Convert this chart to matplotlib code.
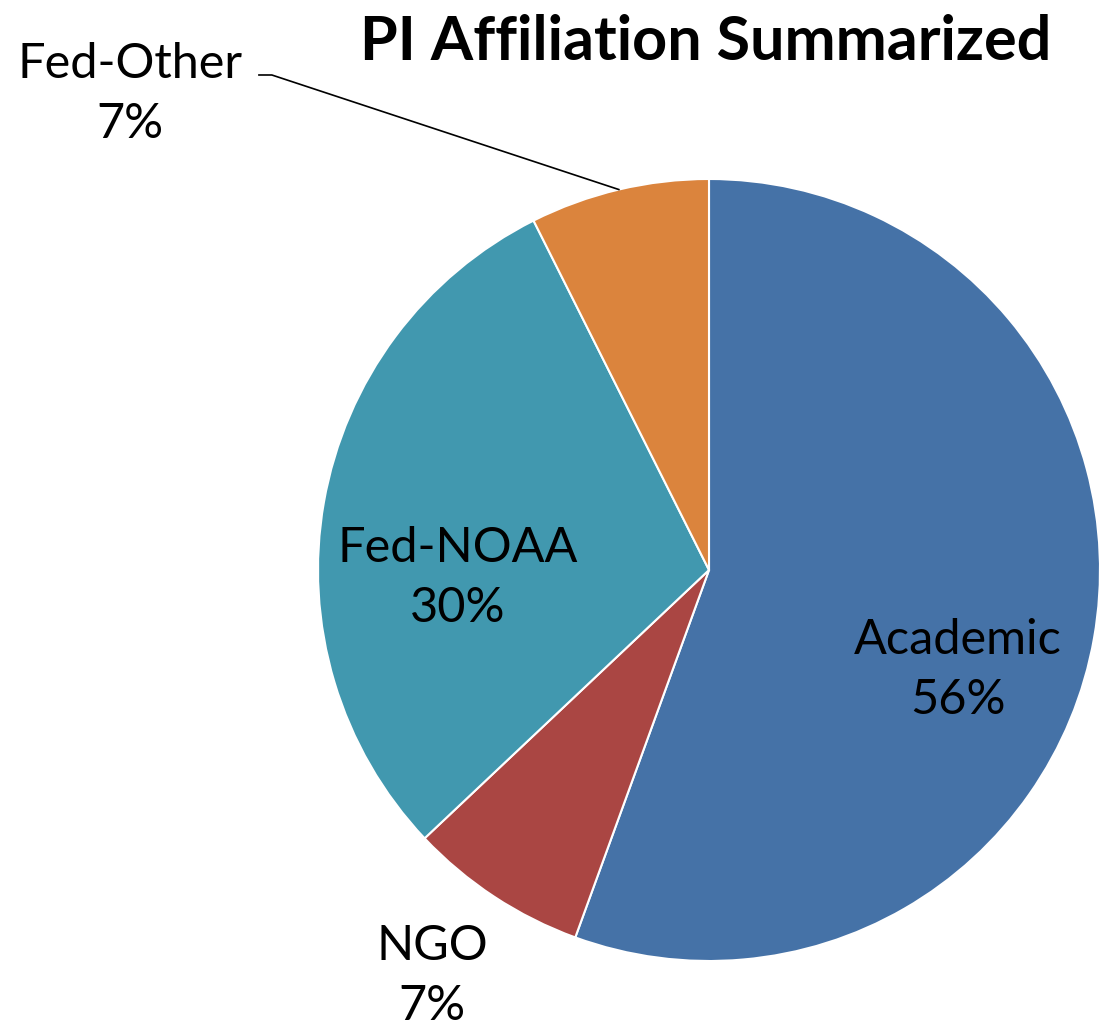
import numpy as np
import matplotlib
matplotlib.use("Agg")
import matplotlib.pyplot as plt

# === Data ===
categories = ["Academic", "NGO", "Fed-NOAA", "Fed-Other"]
counts = [15, 2, 8, 2]
colors = ["#4572A7", "#AA4643", "#4198AF", "#DB843D"]

plt.rcParams["font.family"] = ["Lato", "DejaVu Sans"]

W, H = 1102, 1030
fig = plt.figure(figsize=(W / 100, H / 100), dpi=100)

# pie placement in pixels
cx, cy, r = 709, 570, 391
ax = fig.add_axes([(cx - r) / W, (H - cy - r) / H, 2 * r / W, 2 * r / H])

wedges, _ = ax.pie(counts, colors=colors, startangle=90, counterclock=False,
                   radius=1, wedgeprops=dict(edgecolor="white", linewidth=1.5))
ax.set_xlim(-1, 1)
ax.set_ylim(-1, 1)
ax.set_aspect("equal")

pcts = 100 * np.array(counts) / sum(counts)

# label positions (data units, relative to pie centre)
label_pos = {
    "Academic": (0.637, -0.256),
    "NGO": (-0.708, -1.038),
    "Fed-NOAA": (-0.642, -0.02),
    "Fed-Other": (-1.481, 1.217),
}
for name, p in zip(categories, pcts):
    x, y = label_pos[name]
    ax.text(x, y, f"{name}\n{p:.0f}%", ha="center", va="center",
            fontsize=35, linespacing=1.45, clip_on=False)

# leader line for Fed-Other
w = wedges[3]
mid = np.deg2rad((w.theta1 + w.theta2) / 2)
ex, ey = np.cos(mid), np.sin(mid)
ax.plot([-1.151, -1.118, ex], [1.266, 1.266, ey], color="black", lw=1.2,
        clip_on=False)

fig.text(706 / W, 1 - 42 / H, "PI Affiliation Summarized", ha="center",
         va="center", fontsize=44, fontweight="bold")

fig.savefig("out.png", dpi=100)
